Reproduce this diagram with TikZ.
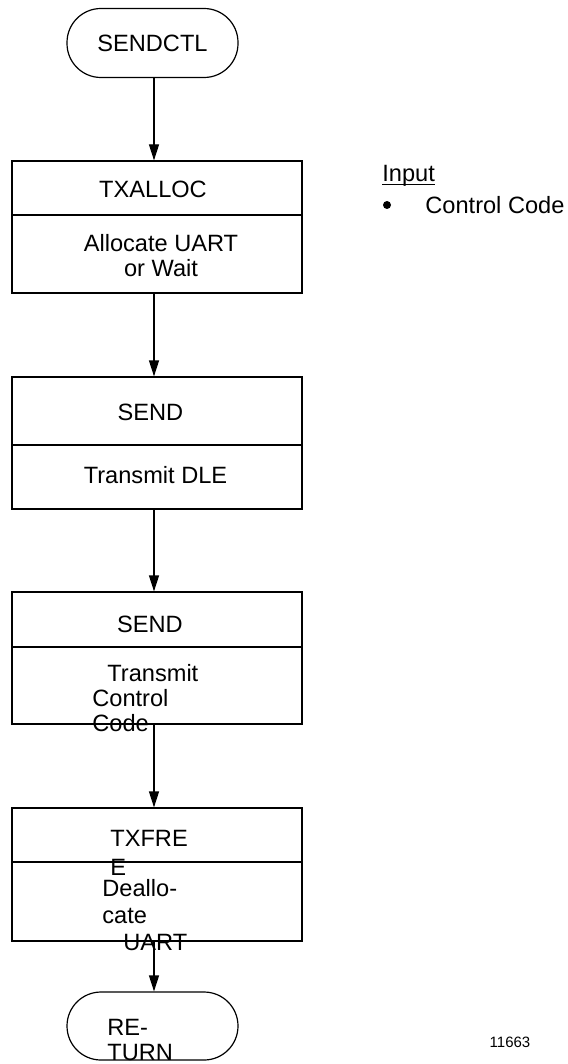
\documentclass[tikz,border=0pt]{standalone}
\usepackage{fontspec}
\setmainfont{Liberation Sans}
\usetikzlibrary{arrows.meta}
\tikzset{
  term/.style={draw, line width=0.6pt, rounded corners=17pt, minimum width=85.5pt, minimum height=34.5pt, inner sep=0pt, font=\fontsize{11.8}{13}\selectfont},
  procbox/.style={draw, line width=0.6pt, minimum width=145pt, minimum height=66pt, inner sep=0pt},
  txt/.style={inner sep=0pt, anchor=base, font=\fontsize{11.8}{13}\selectfont},
  ltxt/.style={txt, anchor=base west},
  divider/.style={line width=0.6pt},
  flow/.style={line width=0.6pt, -{Triangle[width=5pt,length=8pt]}}
}
\begin{document}
\begin{tikzpicture}[x=0.5pt,y=-0.5pt]
\useasboundingbox (0,0) rectangle (567,1064);
% terminals
\node[term] (t1) at (152.5,43) {SENDCTL};
\node[term, minimum height=34pt] (t2) at (152.5,1026) {};
% boxes
\node[procbox] (b1) at (157,227) {};
\node[procbox] (b2) at (157,443) {};
\node[procbox] (b3) at (157,658) {};
\node[procbox, minimum height=66.5pt] (b4) at (157,874.5) {};
% dividers
\coordinate (d1) at (0,215);
\coordinate (d2) at (0,445);
\coordinate (d3) at (0,647);
\coordinate (d4) at (0,862);
\draw[divider] (b1.west |- d1) -- (b1.east |- d1);
\draw[divider] (b2.west |- d2) -- (b2.east |- d2);
\draw[divider] (b3.west |- d3) -- (b3.east |- d3);
\draw[divider] (b4.west |- d4) -- (b4.east |- d4);
% texts
\node[txt] (n1a) at (153,197.5) {TXALLOC};
\node[txt] (n1b) at (161,251.5) {Allocate UART};
\node[txt] (n1c) at (161,276.5) {or Wait};
\node[txt] (n2a) at (150.5,420.5) {SEND};
\node[txt] (n2b) at (155.5,483.5) {Transmit DLE};
\node[txt] (n3a) at (150,632.5) {SEND};
\node[ltxt] (n3b) at (107,681.5) {Transmit};
\node[ltxt] (n3c) at (92,706.5) {Control};
\node[ltxt] (n3d) at (92,731.5) {Code};
\node[ltxt] (n4a) at (110,846.5) {TXFRE};
\node[ltxt] (n4b) at (110,875.5) {E};
\node[ltxt] (n4c) at (102,896.5) {Deallo-};
\node[ltxt] (n4d) at (102,923.5) {cate};
\node[ltxt] (n4e) at (123,950.5) {UART};
\node[ltxt] (n5a) at (107,1035.5) {RE-};
\node[ltxt] (n5b) at (107,1060.5) {TURN};
% input note
\node[ltxt] (inp) at (382,181.5) {Input};
\draw[line width=0.7pt] ([yshift=-1.6pt]inp.base west) -- ([yshift=-1.6pt]inp.base east);
\node[circle, fill, inner sep=0pt, minimum size=4pt] (bul) at (387,205) {};
\node[ltxt] (cc) at (425,213.5) {Control Code};
\node[txt, font=\fontsize{7.5}{9}\selectfont] (id) at (510,1047) {11663};
% connectors
\coordinate (ax) at (154,0);
\draw[flow] (t1.south -| ax) -- (b1.north -| ax);
\draw[flow] (b1.south -| ax) -- (b2.north -| ax);
\draw[flow] (b2.south -| ax) -- (b3.north -| ax);
\draw[flow] (b3.south -| ax) -- (b4.north -| ax);
\draw[flow] (b4.south -| ax) -- (t2.north -| ax);
\end{tikzpicture}
\end{document}
